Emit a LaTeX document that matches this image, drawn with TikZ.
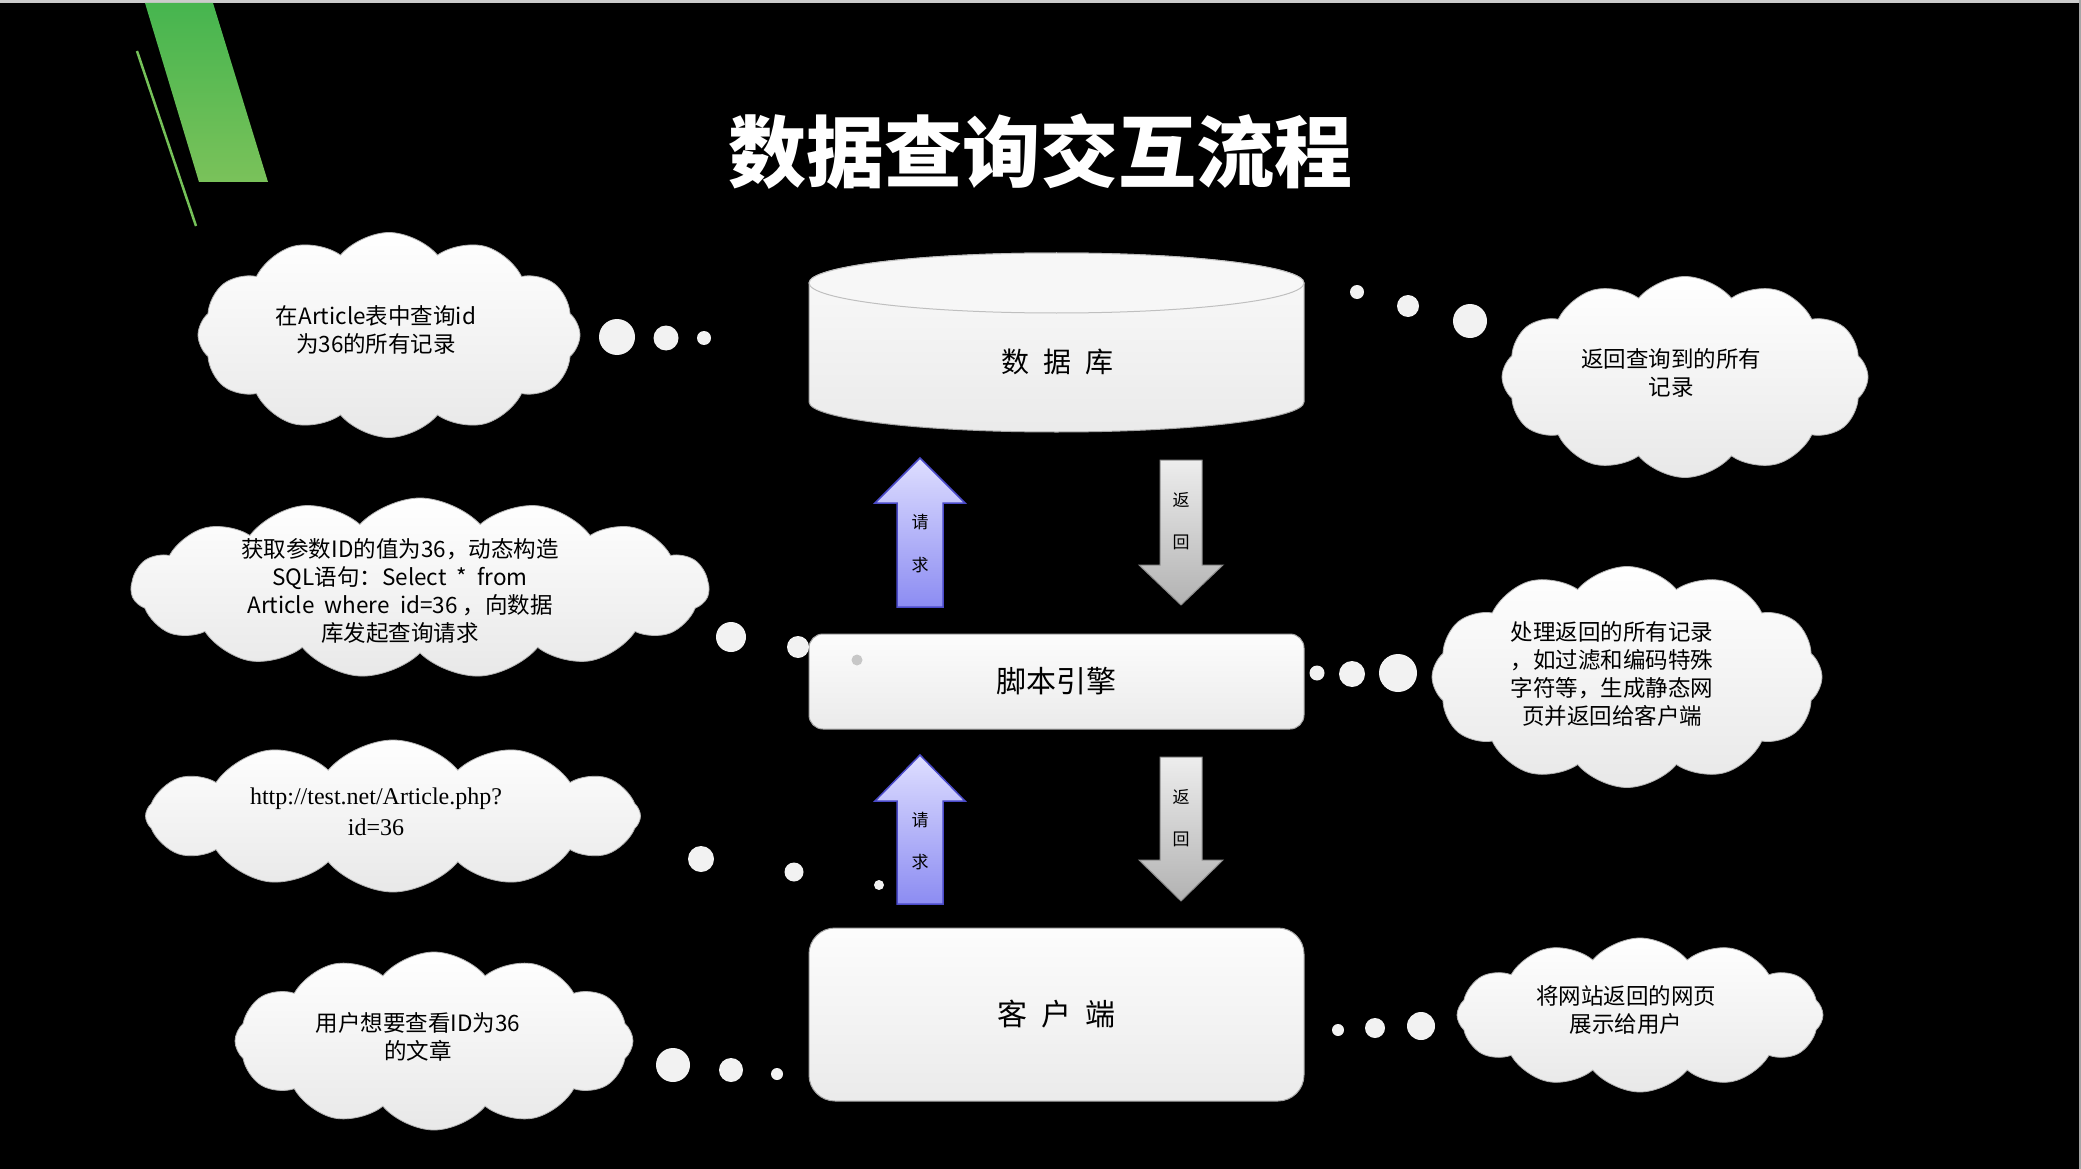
\documentclass[tikz,border=0pt]{standalone}
\usepackage{fontspec}
\setmainfont{Noto Sans CJK SC}
\newfontfamily\urlfont{Liberation Serif}
\usetikzlibrary{shapes.symbols}
\definecolor{gTop}{HTML}{46B54F}
\definecolor{gBot}{HTML}{7AC25A}
\definecolor{upTop}{HTML}{DEDEFF}
\definecolor{upBot}{HTML}{8C8CF2}
\definecolor{upLine}{HTML}{4A4AC8}
\definecolor{dnTop}{HTML}{EDEDED}
\definecolor{dnBot}{HTML}{B2B2B2}
\tikzset{
  cloudbox/.style={cloud, cloud puffs=12, cloud puff arc=100, cloud ignores aspect,
    top color=white, bottom color=black!9, draw=black!30, line width=0.8, inner sep=0},
  cloudtxt/.style={font=\fontsize{22.5}{28}\selectfont, align=center, text=black, inner sep=0},
  dot/.style={circle, fill=black!5, inner sep=0},
  boxstyle/.style={top color=black!1, bottom color=black!8, draw=black!35, line width=1,
    font=\fontsize{30}{30}\selectfont, text=black},
  uparrow/.style={top color=upTop, bottom color=upBot, draw=upLine, line width=1.5},
  downarrow/.style={top color=dnTop, bottom color=dnBot, draw=black!45, line width=1},
  lbl/.style={font=\fontsize{17}{17}\selectfont, text=black, inner sep=0},
}
\begin{document}
\begin{tikzpicture}[x=1pt,y=-1pt]
\useasboundingbox (0,0) rectangle (2081,1169);
\fill[black] (0,0) rectangle (2081,1169);
\fill[black!20] (0,0) rectangle (2081,3);
\fill[black!35] (2079,0) rectangle (2081,1169);
% green decoration
\shade[top color=gTop, bottom color=gBot] (145,3) -- (213,3) -- (268,182) -- (199,182) -- cycle;
\draw[gBot!90!gTop, line width=2.5] (137,51) -- (196,226);
% title
\node[font=\fontsize{78}{78}\selectfont\bfseries, text=white] (title) at (1040,152) {数据查询交互流程};

% database cylinder
\shade[top color=black!2, bottom color=black!8, draw=black!35, line width=1]
  (809,283) -- (809,402) arc[start angle=180, end angle=0, x radius=247.5, y radius=30]
  -- (1304,283) arc[start angle=0, end angle=-180, x radius=247.5, y radius=30] -- cycle;
\draw[black!25, line width=1, fill=black!3] (1056.5,283) ellipse [x radius=247.5, y radius=30];
\node[font=\fontsize{28}{28}\selectfont, text=black] (db) at (1057,362) {数\hspace{14pt}据\hspace{14pt}库};

% script engine box
\node[boxstyle, rounded corners=14, minimum width=495, minimum height=95] (se) at (1056.5,681.5) {脚本引擎};
\node[circle, fill=black!22, inner sep=0, minimum size=11] (gloss) at (857,660) {};
% client box
\node[boxstyle, rounded corners=26, minimum width=495, minimum height=173] (cl) at (1056.5,1014.5) {客\hspace{14pt}户\hspace{14pt}端};

% arrows between db and script engine
\draw[uparrow] (897,607) -- (897,503) -- (875,503) -- (920,458) -- (965,503) -- (943,503) -- (943,607) -- cycle;
\node[lbl] (q1) at (920,522) {请};
\node[lbl] (q2) at (920,565) {求};
\draw[downarrow] (1160,460) -- (1202,460) -- (1202,565) -- (1223,565) -- (1181,605) -- (1139,565) -- (1160,565) -- cycle;
\node[lbl] (r1) at (1181,500) {返};
\node[lbl] (r2) at (1181,542) {回};
% arrows between script engine and client
\draw[uparrow] (897,904) -- (897,801) -- (875,801) -- (920,755) -- (965,801) -- (943,801) -- (943,904) -- cycle;
\node[lbl] (q3) at (920,820) {请};
\node[lbl] (q4) at (920,862) {求};
\draw[downarrow] (1160,757) -- (1202,757) -- (1202,860) -- (1223,860) -- (1181,901) -- (1139,860) -- (1160,860) -- cycle;
\node[lbl] (r3) at (1181,797) {返};
\node[lbl] (r4) at (1181,839) {回};

% clouds
\node[cloudbox, minimum width=382, minimum height=205] (c1) at (389,335) {};
\node[cloudtxt] (t1) at (376,330) {在Article表中查询id\\为36的所有记录};
\node[cloudbox, minimum width=366, minimum height=201] (c2) at (1685,377) {};
\node[cloudtxt] (t2) at (1671,373) {返回查询到的所有\\记录};
\node[cloudbox, cloud puffs=15, cloud puff arc=95, minimum width=578, minimum height=180] (c3) at (420,588) {};
\node[cloudtxt] (t3) at (400,591) {获取参数ID的值为36，动态构造\\SQL语句：Select\ \ *\ \ from\\Article\ \ where\ \ id=36 ，向数据\\库发起查询请求};
\node[cloudbox, minimum width=390, minimum height=221] (c4) at (1627,677) {};
\node[cloudtxt] (t4) at (1612,674) {处理返回的所有记录\\，如过滤和编码特殊\\字符等，生成静态网\\页并返回给客户端};
\node[cloudbox, minimum width=495, minimum height=152] (c5) at (393,816) {};
\node[cloudtxt, font=\urlfont\fontsize{24}{31}\selectfont] (t5) at (376,812) {http://test.net/Article.php?\\id=36};
\node[cloudbox, minimum width=398, minimum height=178] (c6) at (434,1041) {};
\node[cloudtxt] (t6) at (418,1037) {用户想要查看ID为36\\的文章};
\node[cloudbox, minimum width=366, minimum height=154] (c7) at (1640,1015) {};
\node[cloudtxt] (t7) at (1626,1010) {将网站返回的网页\\展示给用户};

% thought dots
\node[dot, minimum size=36] (d1a) at (617,337) {};
\node[dot, minimum size=25] (d1b) at (666,338) {};
\node[dot, minimum size=14] (d1c) at (704,338) {};
\node[dot, minimum size=14] (d2a) at (1357,292) {};
\node[dot, minimum size=22] (d2b) at (1408,306) {};
\node[dot, minimum size=34] (d2c) at (1470,321) {};
\node[dot, minimum size=30] (d3a) at (731,637) {};
\node[dot, minimum size=22] (d3b) at (798,647) {};
\node[dot, minimum size=15] (d4a) at (1317,673) {};
\node[dot, minimum size=26] (d4b) at (1352,674) {};
\node[dot, minimum size=38] (d4c) at (1398,673) {};
\node[dot, minimum size=26] (d5a) at (701,859) {};
\node[dot, minimum size=19] (d5b) at (794,872) {};
\node[dot, minimum size=10] (d5c) at (879,885) {};
\node[dot, minimum size=34] (d6a) at (673,1065) {};
\node[dot, minimum size=24] (d6b) at (731,1070) {};
\node[dot, minimum size=12] (d6c) at (777,1074) {};
\node[dot, minimum size=12] (d7a) at (1338,1030) {};
\node[dot, minimum size=20] (d7b) at (1375,1028) {};
\node[dot, minimum size=28] (d7c) at (1421,1026) {};
\end{tikzpicture}
\end{document}
